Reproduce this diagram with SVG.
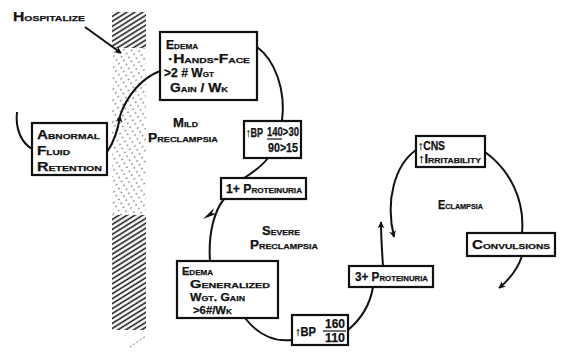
<svg xmlns="http://www.w3.org/2000/svg" width="563" height="357" viewBox="0 0 563 357">
<defs>
<style>
.t{font-family:"Liberation Sans",Arial,sans-serif;font-weight:bold;font-variant:small-caps;font-size:12px;fill:#111;stroke:#111;stroke-width:0.25}
.s{font-size:11px}
.box{fill:#fff;stroke:#111;stroke-width:2.2}
.c{fill:none;stroke:#111;stroke-width:2}
</style>
<pattern id="hd" width="12" height="4.2" patternUnits="userSpaceOnUse" patternTransform="rotate(-32)">
<line x1="0" y1="2" x2="12" y2="2" stroke="#111" stroke-width="1.5"/>
</pattern>
<pattern id="hl" width="12" height="4.6" patternUnits="userSpaceOnUse" patternTransform="rotate(-32)">
<line x1="0" y1="2" x2="12" y2="2" stroke="#666" stroke-width="1" stroke-dasharray="2 4"/>
</pattern>
<marker id="ah" viewBox="0 0 10 10" refX="9" refY="5" markerWidth="7" markerHeight="7" orient="auto" markerUnits="userSpaceOnUse">
<path d="M0,0 L10,5 L0,10 L3,5 Z" fill="#111"/>
</marker>
</defs>
<rect width="563" height="357" fill="#fff"/>

<g id="hatch-band">
<rect x="112" y="12" width="34" height="36" fill="url(#hd)"/>
<rect x="112" y="48" width="34" height="167" fill="url(#hl)"/>
<rect x="112" y="215" width="34" height="115" fill="url(#hd)"/>
<line x1="130" y1="347" x2="146" y2="336" stroke="#777" stroke-width="1" stroke-dasharray="2 2"/>
</g>

<g id="connectors">
<path class="c" d="M17,112 C15,130 22,143 32,149"/>
<path class="c" d="M107,152 C114,142 118,130 120,116" marker-end="url(#ah)"/>
<path class="c" d="M120,116 C127,95 142,78 160,71"/>
<path class="c" d="M85,27 L121,53" marker-end="url(#ah)"/>
<path class="c" d="M257,47 C275,60 286,90 282,121"/>
<path class="c" d="M268,158 C262,166 252,173 244,178"/>
<path class="c" d="M224,199 C215,210 208,232 210,261"/>
<path d="M203,219 L214,208 L212,213 L216,214 Z" fill="#111"/>
<path class="c" d="M245,318 C258,335 275,342 292,340"/>
<path class="c" d="M348,330 C360,320 370,305 373,287"/>
<path class="c" d="M383,266 C382,250 381,238 381,222" marker-end="url(#ah)"/>
<path class="c" d="M416,150 C395,165 385,200 394,237" marker-end="url(#ah)"/>
<path class="c" d="M485,152 C510,170 525,200 522,233"/>
<path class="c" d="M522,256 C518,268 510,279 499,288" marker-end="url(#ah)"/>
</g>

<g id="hospitalize">
<text class="t" x="13" y="21" textLength="72" lengthAdjust="spacingAndGlyphs">Hospitalize</text>
</g>

<g id="abnormal-fluid-retention">
<rect class="box" x="32" y="123" width="75" height="52"/>
<text class="t" x="37" y="139" textLength="63" lengthAdjust="spacingAndGlyphs">Abnormal</text>
<text class="t" x="37" y="155" textLength="33" lengthAdjust="spacingAndGlyphs">Fluid</text>
<text class="t" x="37" y="171" textLength="65" lengthAdjust="spacingAndGlyphs">Retention</text>
</g>

<g id="edema-hands">
<rect class="box" x="160" y="32" width="97" height="68"/>
<text class="t" x="166" y="49" textLength="32" lengthAdjust="spacingAndGlyphs">Edema</text>
<text class="t" x="168" y="63" textLength="82" lengthAdjust="spacingAndGlyphs">·Hands-Face</text>
<text class="t" x="164" y="77" textLength="50" lengthAdjust="spacingAndGlyphs">&gt;2 # Wgt</text>
<text class="t" x="170" y="92" textLength="58" lengthAdjust="spacingAndGlyphs">Gain / Wk</text>
</g>

<g id="mild-preclampsia">
<text class="t" x="173" y="127" textLength="25" lengthAdjust="spacingAndGlyphs">Mild</text>
<text class="t" x="148" y="142" textLength="70" lengthAdjust="spacingAndGlyphs">Preclampsia</text>
</g>

<g id="bp-140">
<rect class="box" x="244" y="121" width="57" height="37"/>
<text class="t" x="246" y="137" textLength="17" lengthAdjust="spacingAndGlyphs">↑BP</text>
<text class="t" x="267" y="136" textLength="32" lengthAdjust="spacingAndGlyphs">140&gt;30</text>
<line x1="267" y1="139" x2="282" y2="139" stroke="#111" stroke-width="1.2"/>
<text class="t" x="268" y="152" textLength="30" lengthAdjust="spacingAndGlyphs">90&gt;15</text>
</g>

<g id="proteinuria-1">
<rect class="box" x="221" y="178" width="85" height="21"/>
<text class="t" x="226" y="193" textLength="76" lengthAdjust="spacingAndGlyphs">1+ Proteinuria</text>
</g>

<g id="severe-preclampsia">
<text class="t" x="262" y="235" textLength="38" lengthAdjust="spacingAndGlyphs">Severe</text>
<text class="t" x="250" y="249" textLength="68" lengthAdjust="spacingAndGlyphs">Preclampsia</text>
</g>

<g id="edema-generalized">
<rect class="box" x="177" y="261" width="101" height="57"/>
<text class="t s" x="182" y="275" textLength="31" lengthAdjust="spacingAndGlyphs">Edema</text>
<text class="t s" x="190" y="288" textLength="80" lengthAdjust="spacingAndGlyphs">Generalized</text>
<text class="t s" x="190" y="301" textLength="55" lengthAdjust="spacingAndGlyphs">Wgt. Gain</text>
<text class="t s" x="193" y="314" textLength="39" lengthAdjust="spacingAndGlyphs">&gt;6#/Wk</text>
</g>

<g id="bp-160">
<rect class="box" x="292" y="315" width="56" height="30"/>
<text class="t" x="295" y="336" textLength="21" lengthAdjust="spacingAndGlyphs">↑BP</text>
<text class="t" x="325" y="328" textLength="20" lengthAdjust="spacingAndGlyphs">160</text>
<line x1="323" y1="331" x2="346" y2="331" stroke="#111" stroke-width="1.2"/>
<text class="t" x="325" y="342" textLength="20" lengthAdjust="spacingAndGlyphs">110</text>
</g>

<g id="proteinuria-3">
<rect class="box" x="349" y="266" width="84" height="21"/>
<text class="t" x="355" y="281" textLength="73" lengthAdjust="spacingAndGlyphs">3+ Proteinuria</text>
</g>

<g id="cns-irritability">
<rect class="box" x="416" y="136" width="69" height="31"/>
<text class="t" x="418" y="150" textLength="27" lengthAdjust="spacingAndGlyphs">↑CNS</text>
<text class="t" x="418" y="163" textLength="63" lengthAdjust="spacingAndGlyphs">↑Irritability</text>
</g>

<g id="eclampsia">
<text class="t" x="438" y="209" textLength="45" lengthAdjust="spacingAndGlyphs">Eclampsia</text>
</g>

<g id="convulsions">
<rect class="box" x="467" y="233" width="88" height="23"/>
<text class="t" x="472" y="249" textLength="78" lengthAdjust="spacingAndGlyphs">Convulsions</text>
</g>
</svg>
